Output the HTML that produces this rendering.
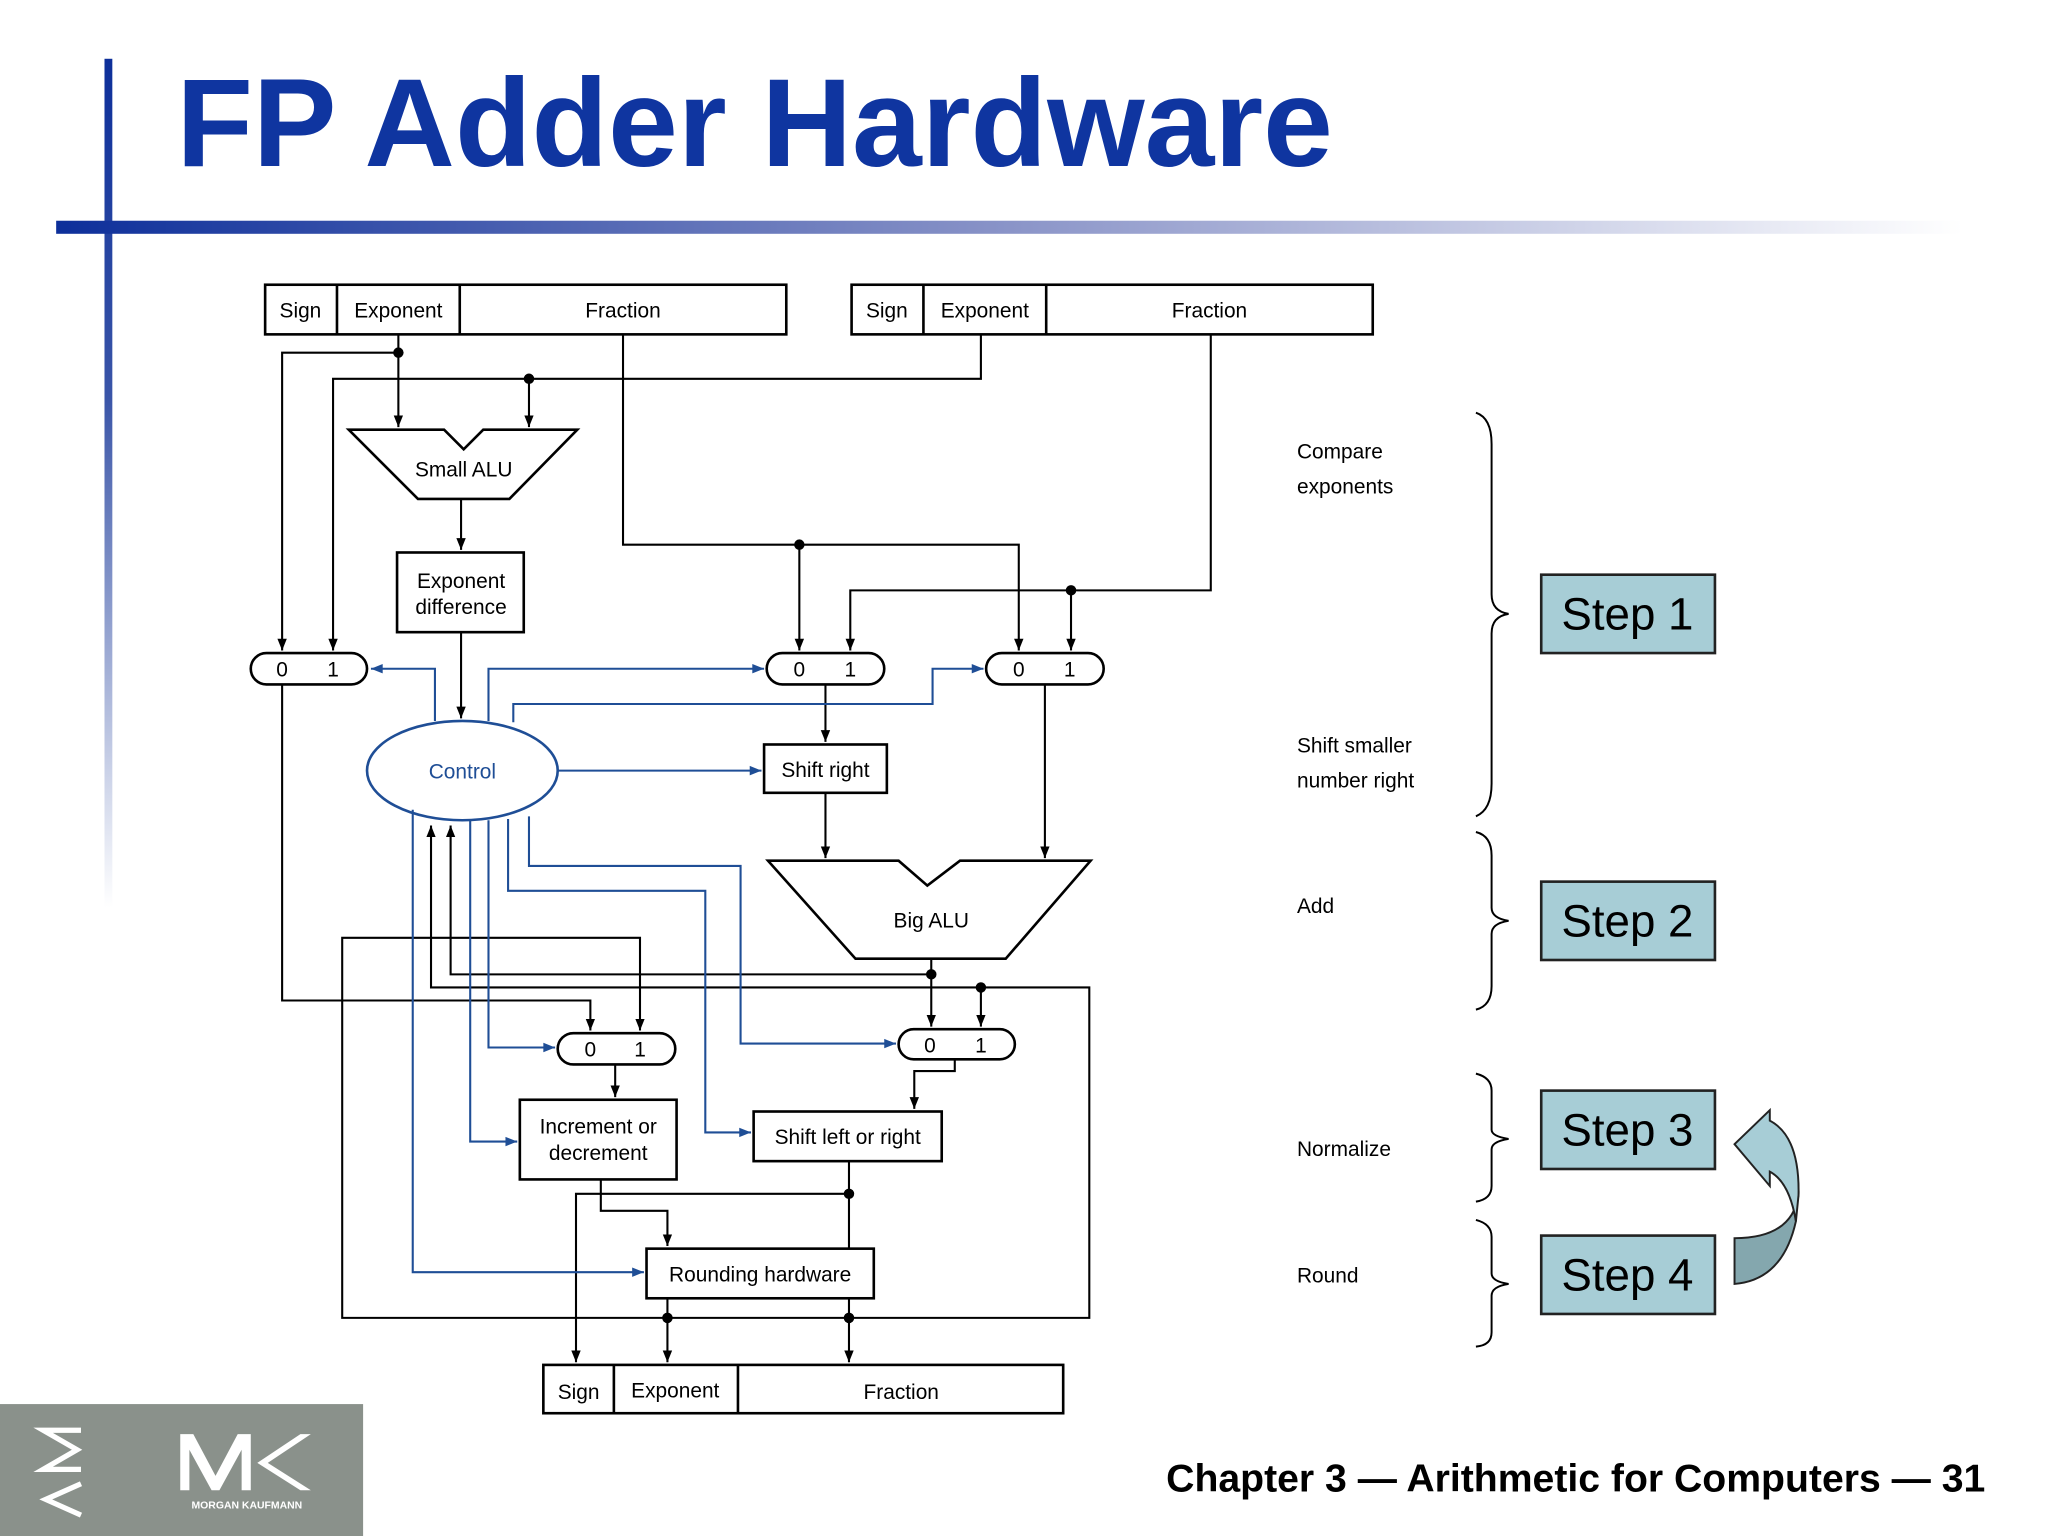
<!DOCTYPE html>
<html><head><meta charset="utf-8"><style>
html,body{margin:0;padding:0;background:#fff;}
svg{display:block;}
text{font-family:"Liberation Sans",Arial,sans-serif;}
</style></head><body>
<svg width="2048" height="1536" viewBox="0 0 1568 1176" xmlns="http://www.w3.org/2000/svg">
<defs>
<linearGradient id="hg" x1="0" x2="1" y1="0" y2="0">
<stop offset="0" stop-color="#0d2f9a"/><stop offset="0.5" stop-color="#8a94c8"/><stop offset="1" stop-color="#ffffff"/></linearGradient>
<linearGradient id="vg" x1="0" x2="0" y1="0" y2="1">
<stop offset="0" stop-color="#0d2f9a"/><stop offset="0.4" stop-color="#3a55a8"/><stop offset="1" stop-color="#ffffff"/></linearGradient>
<marker id="a" viewBox="0 0 10 10" refX="10" refY="5" markerWidth="9" markerHeight="9" orient="auto" markerUnits="userSpaceOnUse"><path d="M0,1 L10,5 L0,9 z" fill="#000"/></marker>
<marker id="b" viewBox="0 0 10 10" refX="10" refY="5" markerWidth="11" markerHeight="9" orient="auto" markerUnits="userSpaceOnUse"><path d="M0,1 L10,5 L0,9 z" fill="#1f4e96"/></marker>
</defs>
<rect x="80" y="45" width="6" height="650" fill="url(#vg)"/>
<rect x="43" y="169" width="1460" height="10" fill="url(#hg)"/>
<text x="135" y="127" font-size="96" font-weight="bold" fill="#0f35a0">FP Adder Hardware</text>

<g fill="none" stroke="#000" stroke-width="2">
<rect x="203" y="218" width="399" height="38"/><line x1="258" y1="218" x2="258" y2="256"/><line x1="352" y1="218" x2="352" y2="256"/>
<rect x="652" y="218" width="399" height="38"/><line x1="707" y1="218" x2="707" y2="256"/><line x1="801" y1="218" x2="801" y2="256"/>
<rect x="416" y="1045" width="398" height="37"/><line x1="470" y1="1045" x2="470" y2="1082"/><line x1="565" y1="1045" x2="565" y2="1082"/>
<path d="M267,329 L340,329 L355,344 L370,329 L442,329 L390,382 L320,382 Z"/>
<rect x="304" y="423" width="97" height="61"/>
<rect x="192" y="500" width="89" height="24" rx="12"/>
<rect x="587" y="500" width="90" height="24" rx="12"/>
<rect x="755" y="500" width="90" height="24" rx="12"/>
<rect x="585" y="570" width="94" height="37"/>
<path d="M588,659 L688,659 L710,678 L735,659 L835,659 L770,734 L655,734 Z"/>
<rect x="427" y="791" width="90" height="24" rx="12"/>
<rect x="688" y="788" width="89" height="23" rx="11.5"/>
<rect x="398" y="842" width="120" height="61"/>
<rect x="577" y="851" width="144" height="38"/>
<rect x="495" y="956" width="174" height="38"/>
</g>
<ellipse cx="354" cy="590" rx="73" ry="38" fill="none" stroke="#1f4e96" stroke-width="2"/>

<g fill="none" stroke="#000" stroke-width="1.6">
<path d="M305,256 L305,327" marker-end="url(#a)"/>
<path d="M305,270 L216,270 L216,498" marker-end="url(#a)"/>
<path d="M751,256 L751,290 L255,290 L255,498" marker-end="url(#a)"/>
<path d="M405,290 L405,327" marker-end="url(#a)"/>
<path d="M353,382 L353,421" marker-end="url(#a)"/>
<path d="M353,484 L353,550" marker-end="url(#a)"/>
<path d="M477,256 L477,417 L780,417 L780,498" marker-end="url(#a)"/>
<path d="M612,417 L612,498" marker-end="url(#a)"/>
<path d="M927,256 L927,452 L651,452 L651,498" marker-end="url(#a)"/>
<path d="M820,452 L820,498" marker-end="url(#a)"/>
<path d="M632,524 L632,568" marker-end="url(#a)"/>
<path d="M632,607 L632,657" marker-end="url(#a)"/>
<path d="M800,524 L800,657" marker-end="url(#a)"/>
<path d="M216,524 L216,766 L452,766 L452,789" marker-end="url(#a)"/>
<path d="M713,734 L713,786" marker-end="url(#a)"/>
<path d="M713,746 L345,746 L345,632" marker-end="url(#a)"/>
<path d="M751,756 L330,756 L330,632" marker-end="url(#a)"/>
<path d="M751,756 L751,786" marker-end="url(#a)"/>
<path d="M751,756 L834,756 L834,1009 L262,1009 L262,718 L490,718 L490,789" marker-end="url(#a)"/>
<path d="M471,815 L471,840" marker-end="url(#a)"/>
<path d="M731,811 L731,820 L700,820 L700,849" marker-end="url(#a)"/>
<path d="M460,903 L460,927 L511,927 L511,954" marker-end="url(#a)"/>
<path d="M650,889 L650,956"/>
<path d="M650,914 L441,914 L441,1043" marker-end="url(#a)"/>
<path d="M511,994 L511,1043" marker-end="url(#a)"/>
<path d="M650,994 L650,1043" marker-end="url(#a)"/>
</g>
<g fill="#000">
<circle cx="305" cy="270" r="4"/><circle cx="405" cy="290" r="4"/><circle cx="612" cy="417" r="4"/><circle cx="820" cy="452" r="4"/>
<circle cx="713" cy="746" r="4"/><circle cx="751" cy="756" r="4"/><circle cx="650" cy="914" r="4"/>
<circle cx="511" cy="1009" r="4"/><circle cx="650" cy="1009" r="4"/>
</g>
<g fill="none" stroke="#1f4e96" stroke-width="1.6">
<path d="M333,552 L333,512 L284,512" marker-end="url(#b)"/>
<path d="M374,552 L374,512 L585,512" marker-end="url(#b)"/>
<path d="M393,553 L393,539 L714,539 L714,512 L753,512" marker-end="url(#b)"/>
<path d="M427,590 L583,590" marker-end="url(#b)"/>
<path d="M405,625 L405,663 L567,663 L567,799 L686,799" marker-end="url(#b)"/>
<path d="M389,627 L389,682 L540,682 L540,867 L575,867" marker-end="url(#b)"/>
<path d="M374,628 L374,802 L425,802" marker-end="url(#b)"/>
<path d="M360,628 L360,874 L396,874" marker-end="url(#b)"/>
<path d="M316,620 L316,974 L493,974" marker-end="url(#b)"/>
</g>

<g font-size="16" fill="#000" text-anchor="middle">
<text x="230" y="243">Sign</text><text x="305" y="243">Exponent</text><text x="477" y="243">Fraction</text>
<text x="679" y="243">Sign</text><text x="754" y="243">Exponent</text><text x="926" y="243">Fraction</text>
<text x="443" y="1071">Sign</text><text x="517" y="1070">Exponent</text><text x="690" y="1071">Fraction</text>
<text x="355" y="365">Small ALU</text>
<text x="353" y="450">Exponent</text><text x="353" y="470">difference</text>
<text x="216" y="518">0</text><text x="255" y="518">1</text>
<text x="612" y="518">0</text><text x="651" y="518">1</text>
<text x="780" y="518">0</text><text x="819" y="518">1</text>
<text x="632" y="595">Shift right</text>
<text x="713" y="710">Big ALU</text>
<text x="452" y="809">0</text><text x="490" y="809">1</text>
<text x="712" y="806">0</text><text x="751" y="806">1</text>
<text x="458" y="868">Increment or</text><text x="458" y="888">decrement</text>
<text x="649" y="876">Shift left or right</text>
<text x="582" y="981">Rounding hardware</text>
<text x="354" y="596" fill="#1f4e96">Control</text>
</g>
<g font-size="16" fill="#000">
<text x="993" y="351">Compare</text><text x="993" y="378">exponents</text>
<text x="993" y="576">Shift smaller</text><text x="993" y="603">number right</text>
<text x="993" y="699">Add</text><text x="993" y="885">Normalize</text><text x="993" y="982">Round</text>
</g>
<g fill="none" stroke="#000" stroke-width="1.5">
<path d="M1130,316 Q1142,320 1142,340 L1142,455 Q1142,468 1155,470 Q1142,472 1142,485 L1142,600 Q1142,620 1130,625"/>
<path d="M1130,637 Q1142,640 1142,655 L1142,695 Q1142,703 1155,705 Q1142,707 1142,715 L1142,755 Q1142,770 1130,773"/>
<path d="M1130,822 Q1142,825 1142,835 L1142,865 Q1142,870 1155,872 Q1142,874 1142,880 L1142,908 Q1142,918 1130,920"/>
<path d="M1130,934 Q1142,937 1142,947 L1142,975 Q1142,981 1155,983 Q1142,985 1142,992 L1142,1020 Q1142,1030 1130,1031"/>
</g>
<g fill="#a7cdd6" stroke="#222" stroke-width="2">
<rect x="1180" y="440" width="133" height="60"/><rect x="1180" y="675" width="133" height="60"/>
<rect x="1180" y="835" width="133" height="60"/><rect x="1180" y="946" width="133" height="60"/>
</g>
<g font-size="35" fill="#000" text-anchor="middle">
<text x="1246" y="482">Step 1</text><text x="1246" y="717">Step 2</text><text x="1246" y="877">Step 3</text><text x="1246" y="988">Step 4</text>
</g>
<path d="M1328,948 Q1372,948 1377,915 Q1378,885 1355,870 L1355,888 Q1372,900 1375,935 Q1365,980 1328,983 Z" fill="#84a7ae" stroke="#222" stroke-width="1.5"/>
<path d="M1377,915 Q1378,870 1355,858 L1355,850 L1328,876 L1355,908 L1355,897 Q1370,905 1375,935 Z" fill="#a7cdd6" stroke="#222" stroke-width="1.5"/>

<rect x="0" y="1075" width="278" height="101" fill="#8a918b"/>
<g fill="none" stroke="#fff" stroke-width="4">
<path d="M62,1095 L33,1095 L59,1110 L33,1125 L62,1125"/>
<path d="M62,1136 L35,1148 L62,1160"/>
</g>
<g fill="#fff">
<path d="M138,1098 L148,1098 L165,1130 L182,1098 L192,1098 L192,1141 L185,1141 L185,1110 L168,1141 L162,1141 L145,1110 L145,1141 L138,1141 Z"/>
<path d="M238,1098 L205,1120 L238,1141 L230,1141 L197,1120 L230,1098 Z"/>
<text x="189" y="1155" font-size="8" font-weight="bold" text-anchor="middle">MORGAN KAUFMANN</text>
</g>
<text x="1520" y="1142" font-size="30" font-weight="bold" text-anchor="end" fill="#000">Chapter 3 — Arithmetic for Computers — 31</text>
</svg>
</body></html>
